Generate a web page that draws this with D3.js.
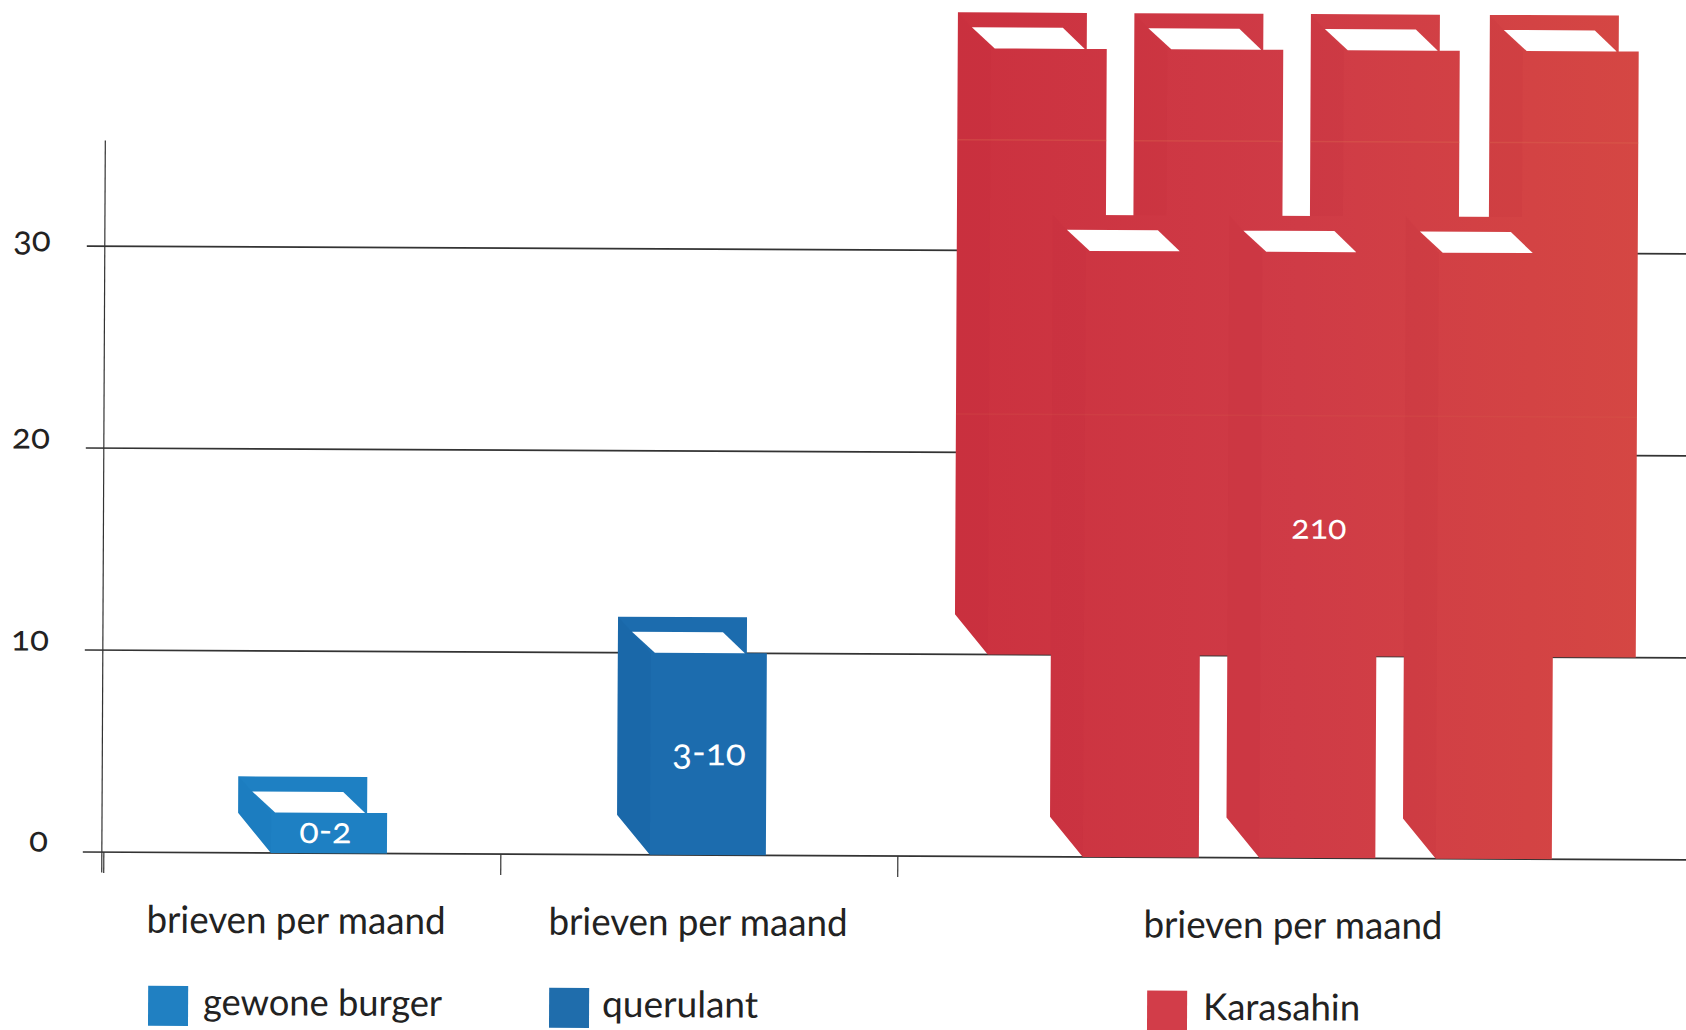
<!DOCTYPE html>
<html><head><meta charset="utf-8">
<script src="https://cdn.jsdelivr.net/npm/d3@7"></script>
<style>
html,body{margin:0;padding:0;background:#fff}
svg{display:block}
text{font-family:Lato,"Open Sans",sans-serif;font-feature-settings:"onum" 1;font-variant-numeric:oldstyle-nums}
</style></head><body><svg id="c" width="1686" height="1030"></svg>
<script>
// Data
const categories   = ["gewone burger","querulant","Karasahin"];
const axisTitle    = "brieven per maand";
const yTicks       = [0,10,20,30];
const groupStarts  = [0,1,2];
const bookGroup    = [0,1,2,2,2,2,2,2,2];
const bookSlot     = [-4.6,-2.453,-0.544,0.456,1.456,2.47,0,1,2];
const bookBase     = [0,0,10,10,10,10,0,0,0];
const bookValue    = [2,10,30,30,30,30,30,30,30];
const valueLabels  = ["0-2","3-10","210"];
const labelSlot    = [-4.62,-2.45,1.0];
const labelValue   = [0.5,4.45,15.8];
const foldValues   = [35.47,21.9];

const fills = ["#1e80c3","#1c6cae","url(#red)"];
const sideFills = ["#1a76b8","#17609f","#bf2c3a"];
const swatchFills = ["#2080c2","#1f6dac","#d23d49"];

const svg = d3.select("#c");
const defs = svg.append("defs");
const grad = defs.append("linearGradient").attr("id","red").attr("gradientUnits","userSpaceOnUse")
  .attr("x1",950).attr("x2",1650).attr("y1",0).attr("y2",0);
grad.append("stop").attr("offset",0).attr("stop-color","#cb313f");
grad.append("stop").attr("offset",.5).attr("stop-color","#cf3b46");
grad.append("stop").attr("offset",1).attr("stop-color","#d54743");

// the printed page is scanned slightly askew
const g = svg.append("g").attr("transform","rotate(0.28)");

const y = d3.scaleLinear().domain([0,30]).range([851.6,245.6]);
const x = d3.scaleLinear().domain([0,1]).range([1087,1263.5]);
const xGroup = d3.scalePoint().domain(groupStarts).range([108,902]);

// gridlines
g.append("g").selectAll("line").data(yTicks).join("line")
  .attr("x1",d=>d===0?87:88).attr("x2",1700)
  .attr("y1",d=>y(d)).attr("y2",d=>y(d))
  .attr("stroke","#333").attr("stroke-width",1.7);

// axes
const yAxis = g.append("g").attr("transform","translate(106,0)")
  .call(d3.axisLeft(y).tickValues(yTicks).tickSize(0).tickPadding(54).tickFormat(d3.format("d")));
yAxis.select(".domain").remove();
yAxis.selectAll("text").attr("font-size",35).attr("fill","#222")
  .attr("dy",d=>d===0?"-0.02em":d===30?"0.14em":"0.01em");
g.append("line").attr("x1",106).attr("x2",106).attr("y1",140).attr("y2",872)
  .attr("stroke","#333").attr("stroke-width",1.2);
g.append("g").selectAll("line").data(groupStarts).join("line")
  .attr("x1",d=>xGroup(d)).attr("x2",d=>xGroup(d))
  .attr("y1",y(0)).attr("y2",y(0)+21).attr("stroke","#333").attr("stroke-width",1.2);

// books
const W=116, DX=33, DY=40, BW=129, TD=36;
const books = bookValue.map((v,i)=>({v,base:bookBase[i],slot:bookSlot[i],grp:bookGroup[i]}));
const shape = d=>{
  const fx=x(d.slot), b=y(d.base), t=y(d.base+d.v);
  return [[fx-DX,t-TD],[fx-DX+BW,t-TD],[fx-DX+BW,t],[fx+W,t],[fx+W,b],[fx,b],[fx-DX,b-DY]].join(" ");
};
const side = d=>{
  const fx=x(d.slot), b=y(d.base), t=y(d.base+d.v);
  return [[fx-DX,t-TD],[fx,t],[fx,b],[fx-DX,b-DY]].join(" ");
};
const page = d=>{
  const fx=x(d.slot), t=y(d.base+d.v);
  return [[fx-19,t-21],[fx+72,t-21],[fx+94,t],[fx+4,t]].join(" ");
};
const bg = g.append("g").selectAll("g").data(books).join("g");
bg.append("polygon").attr("points",shape).attr("fill",d=>fills[d.grp]);
bg.append("polygon").attr("points",side).attr("fill",d=>sideFills[d.grp]).attr("opacity",d=>d.grp===2?.12:.3);
bg.append("polygon").attr("points",page).attr("fill","#fff");

// faint fold lines on the red stack: upper one per raised book, lower one across the stack
const raised = books.filter(d=>d.grp===2 && d.base>0);
g.append("g").selectAll("line").data(raised).join("line")
  .attr("x1",d=>x(d.slot)-DX).attr("x2",d=>x(d.slot)+W).attr("y1",y(foldValues[0])).attr("y2",y(foldValues[0]))
  .attr("stroke","#de6a50").attr("stroke-width",1.5).attr("opacity",.35);
g.append("line")
  .attr("x1",x(raised[0].slot)-DX).attr("x2",x(raised[3].slot)+W).attr("y1",y(foldValues[1])).attr("y2",y(foldValues[1]))
  .attr("stroke","#de6a50").attr("stroke-width",1.5).attr("opacity",.15);

// value labels
g.append("g").selectAll("text").data(valueLabels).join("text")
  .attr("x",(d,i)=>x(labelSlot[i])+58).attr("y",(d,i)=>y(labelValue[i]))
  .attr("text-anchor","middle").attr("fill","#fff")
  .attr("font-size",(d,i)=>i===2?34:i===1?37:36)
  .text(d=>d);

// category captions and legend
const capX=[151,553,1148], swX=[153,554,1152], legX=[208,607,1208];
g.append("g").selectAll("text").data(categories).join("text")
  .attr("x",(d,i)=>capX[i]).attr("y",932).attr("font-size",38).attr("fill","#222")
  .attr("textLength",299).attr("lengthAdjust","spacingAndGlyphs").text(axisTitle);
g.append("g").selectAll("rect").data(categories).join("rect")
  .attr("x",(d,i)=>swX[i]).attr("y",985).attr("width",40).attr("height",40)
  .attr("fill",(d,i)=>swatchFills[i]);
g.append("g").selectAll("text").data(categories).join("text")
  .attr("x",(d,i)=>legX[i]).attr("y",1014).attr("font-size",37).attr("fill","#222")
  .attr("textLength",(d,i)=>[239,156,157][i]).attr("lengthAdjust","spacingAndGlyphs").text(d=>d);
</script></body></html>
